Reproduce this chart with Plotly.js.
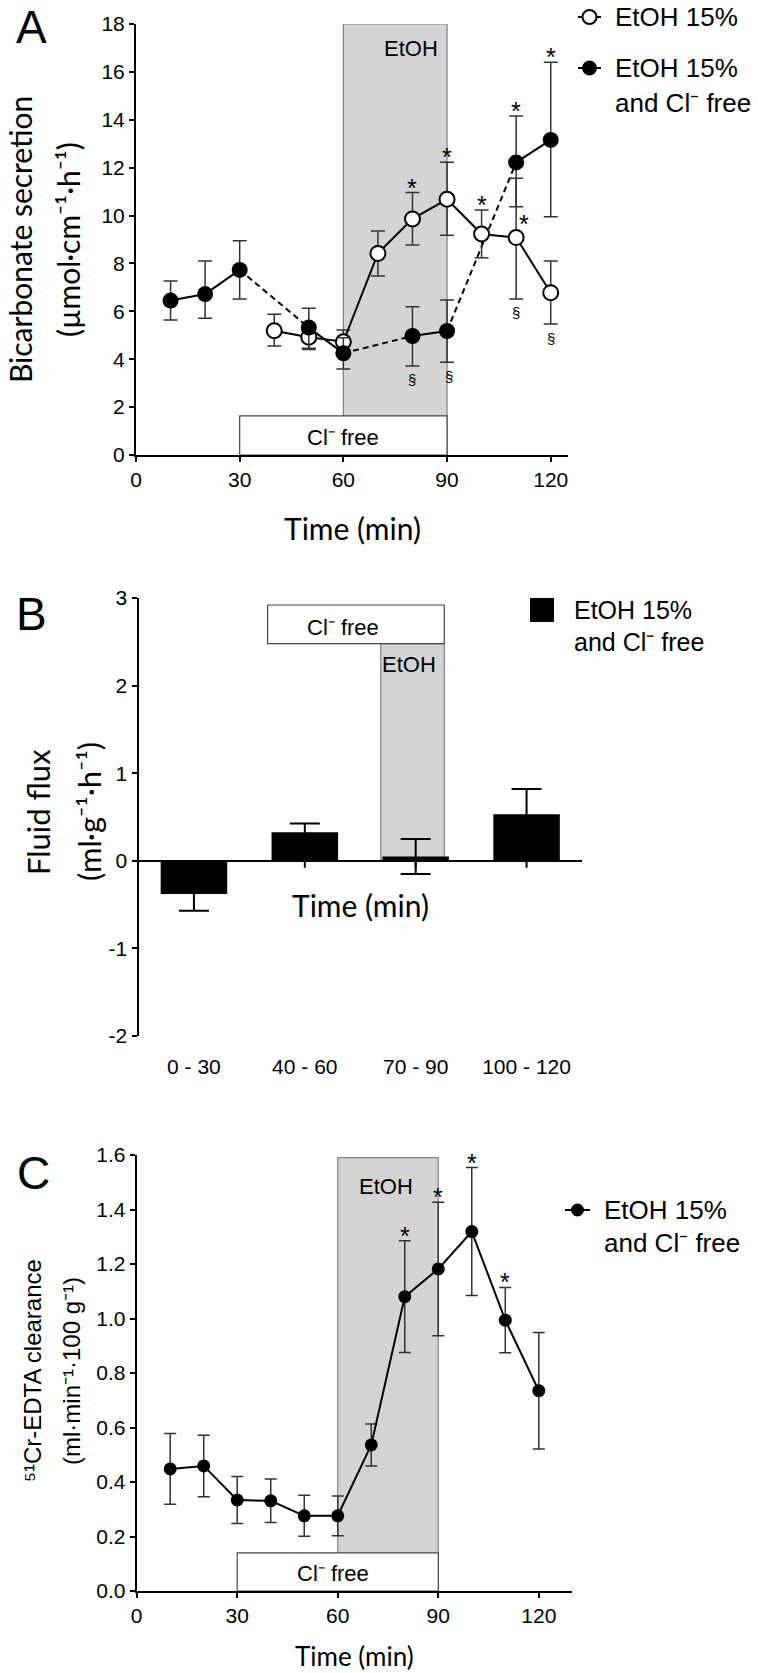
<!DOCTYPE html>
<html><head><meta charset="utf-8">
<script src="https://cdn.plot.ly/plotly-3.0.1.min.js"></script>
<style>html,body{margin:0;padding:0;background:#fff}#chart{width:758px;height:1673px}</style>
</head><body><div id="chart"></div>
<script>
// ---------- Panel A : bicarbonate secretion ----------
const timeA_EtOH = [40, 50, 60, 70, 80, 90, 100, 110, 120];
const bicarb_EtOH = [5.19, 4.92, 4.73, 8.42, 9.86, 10.68, 9.23, 9.08, 6.78];
const bicarb_EtOH_up = [0.69, 0.55, 0.49, 0.94, 1.10, 1.55, 1.00, 2.48, 1.32];
const bicarb_EtOH_dn = [0.64, 0.51, 0.50, 0.94, 1.09, 1.50, 0.99, 2.56, 1.31];

const timeA_Cl = [10, 20, 30, 50, 60, 80, 90, 110, 120];
const bicarb_Cl = [6.45, 6.72, 7.73, 5.32, 4.25, 4.97, 5.18, 12.22, 13.16];
const bicarb_Cl_up = [0.82, 1.38, 1.22, 0.81, 0.65, 1.22, 1.29, 1.94, 3.24];
const bicarb_Cl_dn = [0.81, 1.01, 1.21, 0.86, 0.66, 1.25, 1.31, 1.85, 3.21];

const starA_EtOH = [80, 90, 100, 110];
const starA_Cl = [110, 120];
const sectA_EtOH = [110, 120];
const sectA_Cl = [80, 90];

const ticksA_x = [0, 30, 60, 90, 120];
const ticksA_y = [0, 2, 4, 6, 8, 10, 12, 14, 16, 18];

// ---------- Panel B : fluid flux ----------
const periodsB = ['0 - 30', '40 - 60', '70 - 90', '100 - 120'];
const fluxB = [-0.38, 0.325, 0.05, 0.53];
const fluxB_err = [0.19, 0.10, 0.20, 0.29];
const ticksB_y = [-2, -1, 0, 1, 2, 3];

// ---------- Panel C : 51Cr-EDTA clearance ----------
const timeC = [10, 20, 30, 40, 50, 60, 70, 80, 90, 100, 110, 120];
const crC = [0.448, 0.459, 0.334, 0.331, 0.276, 0.276, 0.536, 1.080, 1.182, 1.319, 0.994, 0.735];
const crC_err = [0.130, 0.113, 0.086, 0.080, 0.075, 0.073, 0.077, 0.205, 0.245, 0.235, 0.120, 0.214];
const starC = [80, 90, 100, 110];
const ticksC_x = [0, 30, 60, 90, 120];
const ticksC_y = [0, 0.2, 0.4, 0.6, 0.8, 1.0, 1.2, 1.4, 1.6];

// ---------- helpers ----------
const W = 758, H = 1673;
const px = v => v / W;
const py = v => 1 - v / H;
const ARIAL = 'Liberation Sans, Arial, Helvetica, sans-serif';
const CAL = 'Lato, Carlito, Calibri, sans-serif';

// split the Cl-free series into solid (consecutive 10-min) and dashed (gap) segments
const solidX = [], solidY = [], dashX = [], dashY = [];
for (let i = 0; i < timeA_Cl.length - 1; i++) {
  const gx = timeA_Cl[i + 1] - timeA_Cl[i];
  const tx = gx === 10 ? solidX : dashX, ty = gx === 10 ? solidY : dashY;
  tx.push(timeA_Cl[i], timeA_Cl[i + 1], null);
  ty.push(bicarb_Cl[i], bicarb_Cl[i + 1], null);
}

const errStyle = {color: '#333', thickness: 1.5};

const traces = [
  {x: dashX, y: dashY, xaxis: 'x', yaxis: 'y', mode: 'lines', hoverinfo: 'skip',
   line: {color: '#000', width: 2, dash: '6px,4px'}, showlegend: false},
  {x: solidX, y: solidY, xaxis: 'x', yaxis: 'y', mode: 'lines', hoverinfo: 'skip',
   line: {color: '#000', width: 2}, showlegend: false},
  {x: timeA_EtOH, y: bicarb_EtOH, xaxis: 'x', yaxis: 'y', mode: 'lines+markers', name: 'EtOH 15%',
   line: {color: '#000', width: 2},
   marker: {symbol: 'circle', size: 15, color: '#fff', line: {color: '#000', width: 2}},
   error_y: Object.assign({type: 'data', symmetric: false, array: bicarb_EtOH_up, arrayminus: bicarb_EtOH_dn, width: 7}, errStyle),
   showlegend: false},
  {x: timeA_Cl, y: bicarb_Cl, xaxis: 'x', yaxis: 'y', mode: 'markers', name: 'EtOH 15% and Cl- free',
   marker: {symbol: 'circle', size: 16, color: '#000'},
   error_y: Object.assign({type: 'data', symmetric: false, array: bicarb_Cl_up, arrayminus: bicarb_Cl_dn, width: 7}, errStyle),
   showlegend: false},
  {x: periodsB, y: fluxB, xaxis: 'x2', yaxis: 'y2', type: 'bar', width: 0.6,
   marker: {color: '#000'},
   error_y: {type: 'data', array: fluxB_err, color: '#000', thickness: 2, width: 15},
   showlegend: false},
  {x: timeC, y: crC, xaxis: 'x3', yaxis: 'y3', mode: 'lines+markers',
   line: {color: '#000', width: 2},
   marker: {symbol: 'circle', size: 13, color: '#000'},
   error_y: Object.assign({type: 'data', array: crC_err, width: 6}, errStyle),
   showlegend: false}
];

const axisBase = {
  showline: true, linecolor: '#000', linewidth: 2, ticks: 'outside', ticklen: 5, tickwidth: 2,
  tickcolor: '#000', showgrid: false, zeroline: false, fixedrange: true,
  tickfont: {family: ARIAL, size: 21, color: '#000'}
};

const layout = {
  width: W, height: H, margin: {l: 0, r: 0, t: 0, b: 0},
  paper_bgcolor: '#fff', plot_bgcolor: 'rgba(0,0,0,0)', showlegend: false,
  bargap: 0.4,
  xaxis: Object.assign({}, axisBase, {domain: [px(136), px(568)], anchor: 'y', range: [0, 125], tickvals: ticksA_x}),
  yaxis: Object.assign({}, axisBase, {domain: [py(455), py(24)], anchor: 'x', range: [0, 18], tickvals: ticksA_y}),
  xaxis2: Object.assign({}, axisBase, {domain: [px(138.5), px(582)], anchor: 'y2', type: 'category',
    range: [-0.5, 3.5], showline: false, ticks: '', ticklabelstandoff: 16}),
  yaxis2: Object.assign({}, axisBase, {domain: [py(1036), py(598)], anchor: 'x2', range: [-2, 3],
    tickvals: ticksB_y, ticktext: ticksB_y.map(v => String(v)),
    zeroline: true, zerolinecolor: '#000', zerolinewidth: 2}),
  xaxis3: Object.assign({}, axisBase, {domain: [px(136.7), px(572.3)], anchor: 'y3', range: [0, 130], tickvals: ticksC_x}),
  yaxis3: Object.assign({}, axisBase, {domain: [py(1591), py(1155)], anchor: 'x3', range: [0, 1.6],
    tickvals: ticksC_y, ticktext: ticksC_y.map(v => v.toFixed(1))}),
  shapes: [], annotations: []
};

const S = layout.shapes, A = layout.annotations;
// shaded periods
S.push({type: 'rect', xref: 'x', yref: 'y', x0: 60, x1: 90, y0: 0, y1: 18, layer: 'below',
  fillcolor: '#d4d4d4', line: {color: '#808080', width: 1.2}});
S.push({type: 'rect', xref: 'x', yref: 'y', x0: 30, x1: 90, y0: 0, y1: 1.63, layer: 'below',
  fillcolor: '#fff', line: {color: '#444', width: 1.2}});
S.push({type: 'rect', xref: 'x2', yref: 'y2', x0: 1.685, x1: 2.258, y0: 0, y1: 2.48, layer: 'below',
  fillcolor: '#d4d4d4', line: {color: '#808080', width: 1.2}});
S.push({type: 'rect', xref: 'x2', yref: 'y2', x0: 0.664, x1: 2.258, y0: 2.48, y1: 2.92, layer: 'below',
  fillcolor: '#fff', line: {color: '#444', width: 1.2}});
S.push({type: 'rect', xref: 'x3', yref: 'y3', x0: 60, x1: 90, y0: 0, y1: 1.59, layer: 'below',
  fillcolor: '#d4d4d4', line: {color: '#808080', width: 1.2}});
S.push({type: 'rect', xref: 'x3', yref: 'y3', x0: 30, x1: 90, y0: 0, y1: 0.14, layer: 'below',
  fillcolor: '#fff', line: {color: '#444', width: 1.2}});
// ticks on the zero line of panel B
periodsB.forEach((p, i) => S.push({type: 'line', xref: 'x2', yref: 'y2', ysizemode: 'pixel', yanchor: 0,
  x0: i, x1: i, y0: 0, y1: -7, line: {color: '#000', width: 2}}));

// legends (drawn as shapes + text)
function legLine(x0, x1, y) {
  S.push({type: 'line', xref: 'paper', yref: 'paper', x0: px(x0), x1: px(x1), y0: py(y), y1: py(y), line: {color: '#000', width: 2}});
}
function legDot(cx, cy, r, fill) {
  S.push({type: 'circle', xref: 'paper', yref: 'paper', xsizemode: 'pixel', ysizemode: 'pixel',
    xanchor: px(cx), yanchor: py(cy), x0: -r, x1: r, y0: -r, y1: r,
    fillcolor: fill, line: {color: '#000', width: fill === '#fff' ? 2 : 0}});
}
legLine(578, 601, 17); legDot(589.5, 17, 7, '#fff');
legLine(578, 601, 68); legDot(589.5, 68, 7.5, '#000');
S.push({type: 'rect', xref: 'paper', yref: 'paper', x0: px(530), x1: px(554), y0: py(622), y1: py(598),
  fillcolor: '#000', line: {width: 0}});
legLine(565, 590, 1210); legDot(577.5, 1210, 6.5, '#000');

function txt(text, x, y, size, opts) {
  A.push(Object.assign({text: text, xref: 'paper', yref: 'paper', x: px(x), y: py(y), showarrow: false,
    xanchor: 'center', yanchor: 'middle', font: {family: ARIAL, size: size, color: '#000'}}, opts || {}));
}
// panel letters
txt('A', 31, 0, 46, {yanchor: 'top', borderpad: 0});
txt('B', 31.5, 614, 46); txt('C', 33, 1173, 46);
// axis titles (Unicode superscripts)
const calF = s => ({family: CAL, size: s, color: '#000'});
txt('Bicarbonate secretion', 20, 240, 30, {textangle: -90, font: calF(30)});
txt('(µmol·cm⁻¹·h⁻¹)', 68, 240, 30, {textangle: -90, font: calF(30)});
txt('Time (min)', 352, 528, 30, {font: calF(30)});
txt('Fluid flux', 38, 812, 31, {textangle: -90, font: calF(31)});
txt('(ml·g⁻¹·h⁻¹)', 89, 812, 31, {textangle: -90, font: calF(31)});
txt('Time (min)', 360, 905, 30, {font: calF(30)});
txt('⁵¹Cr-EDTA clearance', 32, 1371, 24, {textangle: -90});
txt('(ml·min⁻¹·100 g⁻¹)', 71, 1371, 24, {textangle: -90});
txt('Time (min)', 354, 1656, 26, {font: calF(26)});
// period labels
txt('EtOH', 411, 48, 22); txt('Cl⁻ free', 342.5, 437, 22);
txt('EtOH', 409, 664, 22); txt('Cl⁻ free', 342.5, 628, 22);
txt('EtOH', 386.5, 1186, 22); txt('Cl⁻ free', 332.5, 1573, 22);
// legend texts
txt('EtOH 15%', 613, 17, 26, {xanchor: 'left'});
txt('EtOH 15%', 613, 68, 26, {xanchor: 'left'});
txt('and Cl⁻ free', 613, 103, 26, {xanchor: 'left'});
txt('EtOH 15%', 571.7, 610, 25, {xanchor: 'left'});
txt('and Cl⁻ free', 571.7, 642, 25, {xanchor: 'left'});
txt('EtOH 15%', 601.7, 1210, 26, {xanchor: 'left'});
txt('and Cl⁻ free', 601.7, 1243, 26, {xanchor: 'left'});

// significance marks derived from the data
function mark(sym, xr, yr, x, y, dx, dy, size) {
  A.push({text: sym, xref: xr, yref: yr, x: x, y: y, xshift: dx, yshift: dy, showarrow: false,
    xanchor: 'center', yanchor: 'middle', font: {family: ARIAL, size: size, color: '#000'}});
}
starA_EtOH.forEach(t => {
  const i = timeA_EtOH.indexOf(t);
  if (t === 110) mark('*', 'x', 'y', t, bicarb_EtOH[i], 8, 14, 25);
  else mark('*', 'x', 'y', t, bicarb_EtOH[i] + bicarb_EtOH_up[i], 0, 5, 25);
});
starA_Cl.forEach(t => { const i = timeA_Cl.indexOf(t); mark('*', 'x', 'y', t, bicarb_Cl[i] + bicarb_Cl_up[i], 0, 5, 25); });
sectA_EtOH.forEach(t => { const i = timeA_EtOH.indexOf(t); mark('§', 'x', 'y', t, bicarb_EtOH[i] - bicarb_EtOH_dn[i], 0, -14, 15); });
sectA_Cl.forEach(t => { const i = timeA_Cl.indexOf(t); mark('§', 'x', 'y', t, bicarb_Cl[i] - bicarb_Cl_dn[i], t === 90 ? 2 : 0, -14, 15); });
starC.forEach(t => { const i = timeC.indexOf(t); mark('*', 'x3', 'y3', t, crC[i] + crC_err[i], 0, 5, 25); });

Plotly.newPlot('chart', traces, layout, {displayModeBar: false, staticPlot: true});
</script></body></html>
